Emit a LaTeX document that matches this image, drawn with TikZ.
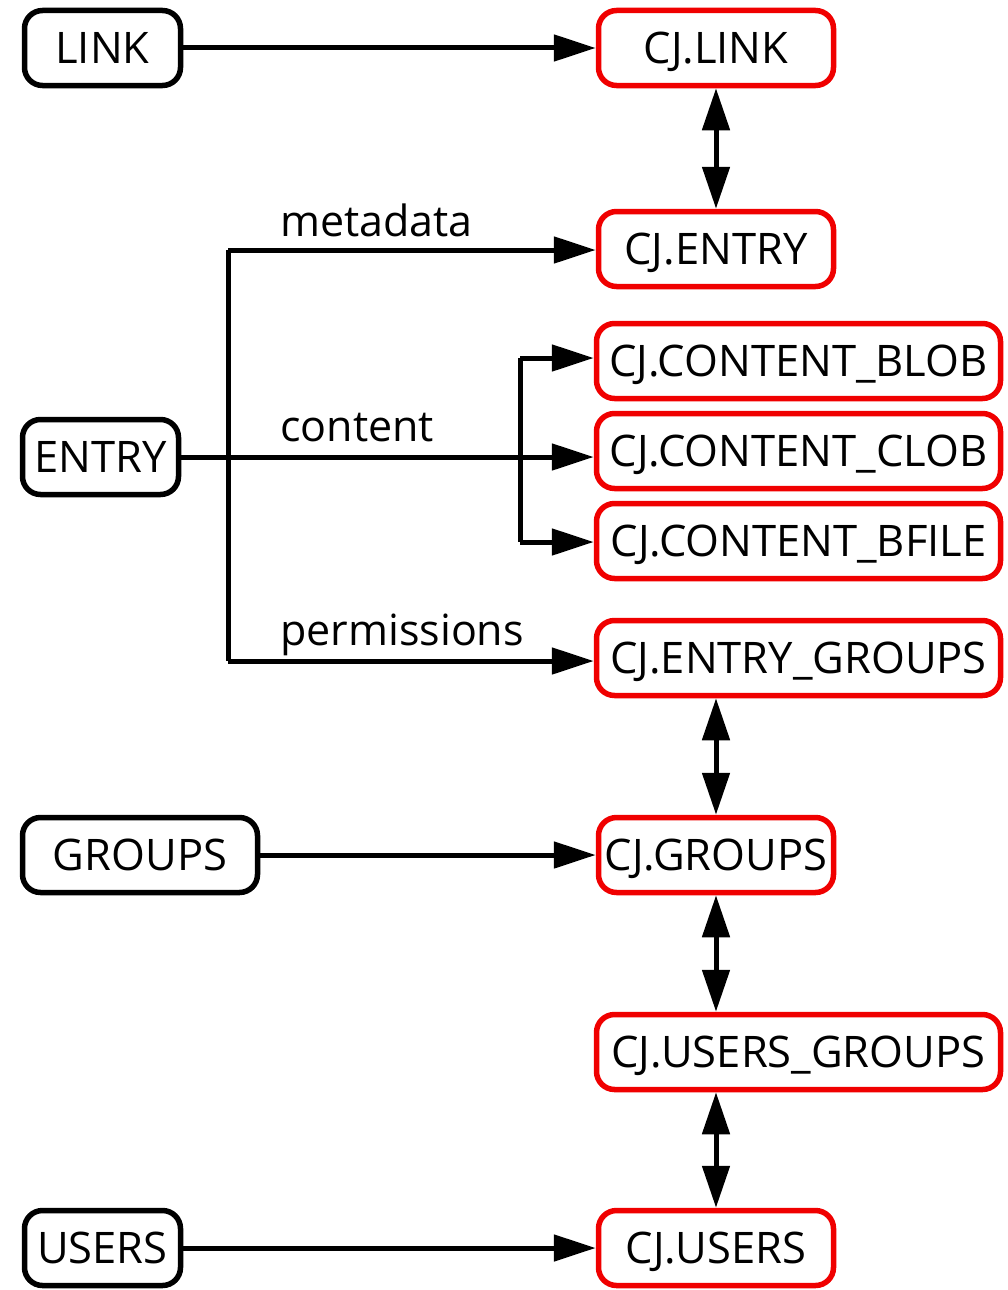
\documentclass[tikz,border=0pt]{standalone}
\usepackage{fontspec}
\setmainfont{Open Sans}
\usetikzlibrary{arrows.meta}
\definecolor{boxred}{RGB}{240,0,0}
\tikzset{
  tbl/.style={draw=black, line width=5.5pt, rounded corners=18pt, fill=white,
    minimum height=75pt, inner sep=0pt, align=center,
    text height=31pt, text depth=0pt,
    font=\fontsize{43.5}{46}\selectfont},
  cjtbl/.style={tbl, draw=boxred},
  narrow/.style={minimum width=156pt},
  mid/.style={minimum width=235pt},
  wide/.style={minimum width=404pt},
  link/.style={line width=5pt, -{Triangle[length=42pt,width=26pt]}},
  bilink/.style={line width=5pt, {Triangle[length=42pt,width=27pt]}-{Triangle[length=42pt,width=27pt]}},
  plain/.style={line width=5pt},
  lbl/.style={anchor=base west, inner sep=0pt, font=\fontsize{43}{46}\selectfont}
}
\begin{document}
\begin{tikzpicture}[x=1pt,y=-1pt]
\useasboundingbox (0,0) rectangle (1007,1290);

% source tables
\node[tbl, narrow] (link)   at (102.5,48)   {LINK};
\node[tbl, narrow] (entry)  at (100.5,457)  {ENTRY};
\node[tbl, mid]    (groups) at (140,855)    {GROUPS};
\node[tbl, narrow] (users)  at (102.5,1248) {USERS};

% CJ tables
\node[cjtbl, mid]  (cjlink)   at (716,48)     {CJ.LINK};
\node[cjtbl, mid]  (cjentry)  at (716,249)    {CJ.ENTRY};
\node[cjtbl, wide] (cjblob)   at (798.5,361)  {CJ.CONTENT\_BLOB};
\node[cjtbl, wide] (cjclob)   at (798.5,451)  {CJ.CONTENT\_CLOB};
\node[cjtbl, wide] (cjbfile)  at (798.5,541)  {CJ.CONTENT\_BFILE};
\node[cjtbl, wide] (cjegroups) at (798.5,658) {CJ.ENTRY\_GROUPS};
\node[cjtbl, mid]  (cjgroups) at (716,855)    {CJ.GROUPS};
\node[cjtbl, wide] (cjugroups) at (798.5,1052) {CJ.USERS\_GROUPS};
\node[cjtbl, mid]  (cjusers)  at (716,1248)   {CJ.USERS};

% junction points of the ENTRY fan-out
\coordinate (tmeta)  at (228,250);
\coordinate (tperm)  at (228,661);
\coordinate (fblob)  at (520,358);
\coordinate (fbfile) at (520,542);

% one-way mappings
\draw[link] (link.east) -- (link.east -| cjlink.west);
\draw[link] (groups.east) -- (groups.east -| cjgroups.west);
\draw[link] (users.east) -- (users.east -| cjusers.west);

% ENTRY fan-out
\draw[plain] (tmeta) -- (tperm);
\draw[link] (entry.east) -- (entry.east -| cjclob.west);
\draw[link] (tmeta) -- (tmeta -| cjentry.west);
\draw[link] (tperm) -- (tperm -| cjegroups.west);
\draw[plain] (fblob) -- (fbfile);
\draw[link] (fblob) -- (fblob -| cjblob.west);
\draw[link] (fbfile) -- (fbfile -| cjbfile.west);

% labels
\node[lbl] (lmeta) at (280,236) {metadata};
\node[lbl] (lcont) at (280,441) {content};
\node[lbl] (lperm) at (280,645) {permissions};

% two-way relations
\draw[bilink] (cjlink.south) -- (cjentry.north);
\draw[bilink] (cjegroups.south -| cjgroups.south) -- (cjgroups.north);
\draw[bilink] (cjgroups.south) -- (cjugroups.north -| cjgroups.south);
\draw[bilink] (cjugroups.south -| cjusers.north) -- (cjusers.north);
\end{tikzpicture}
\end{document}
